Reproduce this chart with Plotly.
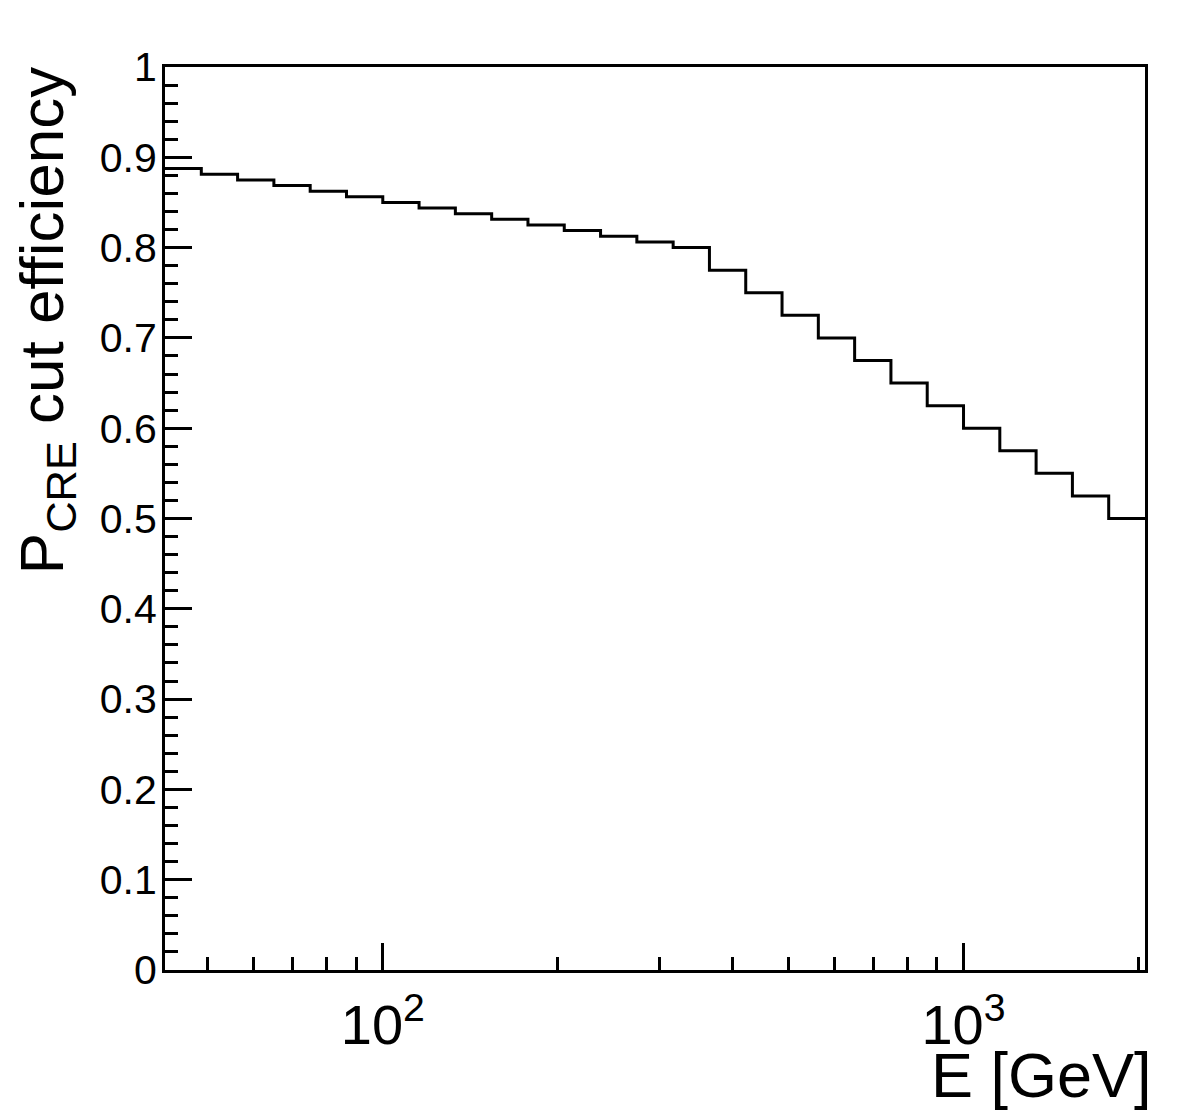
import plotly.graph_objects as go

# Bin edges (GeV), log-spaced, 27 bins
bin_edges = [42.170, 48.697, 56.234, 64.938, 74.989, 86.596, 100.0, 115.478,
             133.352, 153.993, 177.828, 205.353, 237.137, 273.842, 316.228,
             365.174, 421.697, 486.968, 562.341, 649.382, 749.894, 865.964,
             1000.0, 1154.78, 1333.52, 1539.93, 1778.28, 2053.53]
# Cut efficiency per bin
efficiency = [0.8875, 0.8813, 0.875, 0.8688, 0.8625, 0.8563, 0.85, 0.8438,
              0.8375, 0.8313, 0.825, 0.8188, 0.8125, 0.8063, 0.80,
              0.775, 0.75, 0.725, 0.70, 0.675, 0.65, 0.625, 0.60, 0.575,
              0.55, 0.525, 0.50]

x_major_vals = [100, 1000]
x_major_text = ["10<sup>2</sup>", "10<sup>3</sup>"]
x_minor_vals = [50, 60, 70, 80, 90, 200, 300, 400, 500, 600, 700, 800, 900, 2000]
y_major_vals = [0, 0.1, 0.2, 0.3, 0.4, 0.5, 0.6, 0.7, 0.8, 0.9, 1.0]
y_major_text = ["0", "0.1", "0.2", "0.3", "0.4", "0.5", "0.6", "0.7", "0.8", "0.9", "1"]

x_title = "E [GeV]"
y_title = "P<sub>CRE</sub> cut efficiency"

FONT = "Liberation Sans, Arial, Helvetica, sans-serif"

fig = go.Figure()
fig.add_trace(go.Scatter(
    x=bin_edges,
    y=efficiency + [efficiency[-1]],
    mode="lines",
    line=dict(shape="hv", color="black", width=3),
    showlegend=False,
    hoverinfo="skip",
))

fig.update_layout(
    width=1182, height=1117,
    margin=dict(l=165, r=37, t=67, b=147),
    paper_bgcolor="white", plot_bgcolor="white",
    font=dict(family=FONT, color="black"),
    showlegend=False,
)

fig.update_xaxes(
    type="log",
    range=[1.625, 3.3125],
    tickmode="array", tickvals=x_major_vals, ticktext=x_major_text,
    ticks="inside", ticklen=27, tickwidth=3, tickcolor="black",
    tickfont=dict(size=56, family=FONT, color="black"),
    ticklabelstandoff=4,
    minor=dict(tickmode="array", tickvals=x_minor_vals, ticks="inside",
               ticklen=13, tickwidth=3, tickcolor="black", showgrid=False),
    showline=True, linecolor="black", linewidth=3, mirror=True,
    showgrid=False, zeroline=False,
)
fig.update_yaxes(
    range=[0, 1],
    tickmode="array", tickvals=y_major_vals, ticktext=y_major_text,
    ticks="inside", ticklen=27, tickwidth=3, tickcolor="black",
    tickfont=dict(size=41, family=FONT, color="black"),
    ticklabelstandoff=-3,
    minor=dict(dtick=0.02, ticks="inside", ticklen=13, tickwidth=3,
               tickcolor="black", showgrid=False),
    showline=True, linecolor="black", linewidth=3, mirror=True,
    showgrid=False, zeroline=False,
)

fig.add_annotation(
    text=x_title, xref="paper", yref="paper",
    x=1.009, xanchor="right", y=-0.075, yanchor="top",
    showarrow=False, font=dict(size=63, family=FONT, color="black"),
)
fig.add_annotation(
    text=y_title, xref="paper", yref="paper",
    x=-0.122, xanchor="center", y=1.002, yanchor="top",
    textangle=-90,
    showarrow=False, font=dict(size=62, family=FONT, color="black"),
)

fig.write_html("out.html")
